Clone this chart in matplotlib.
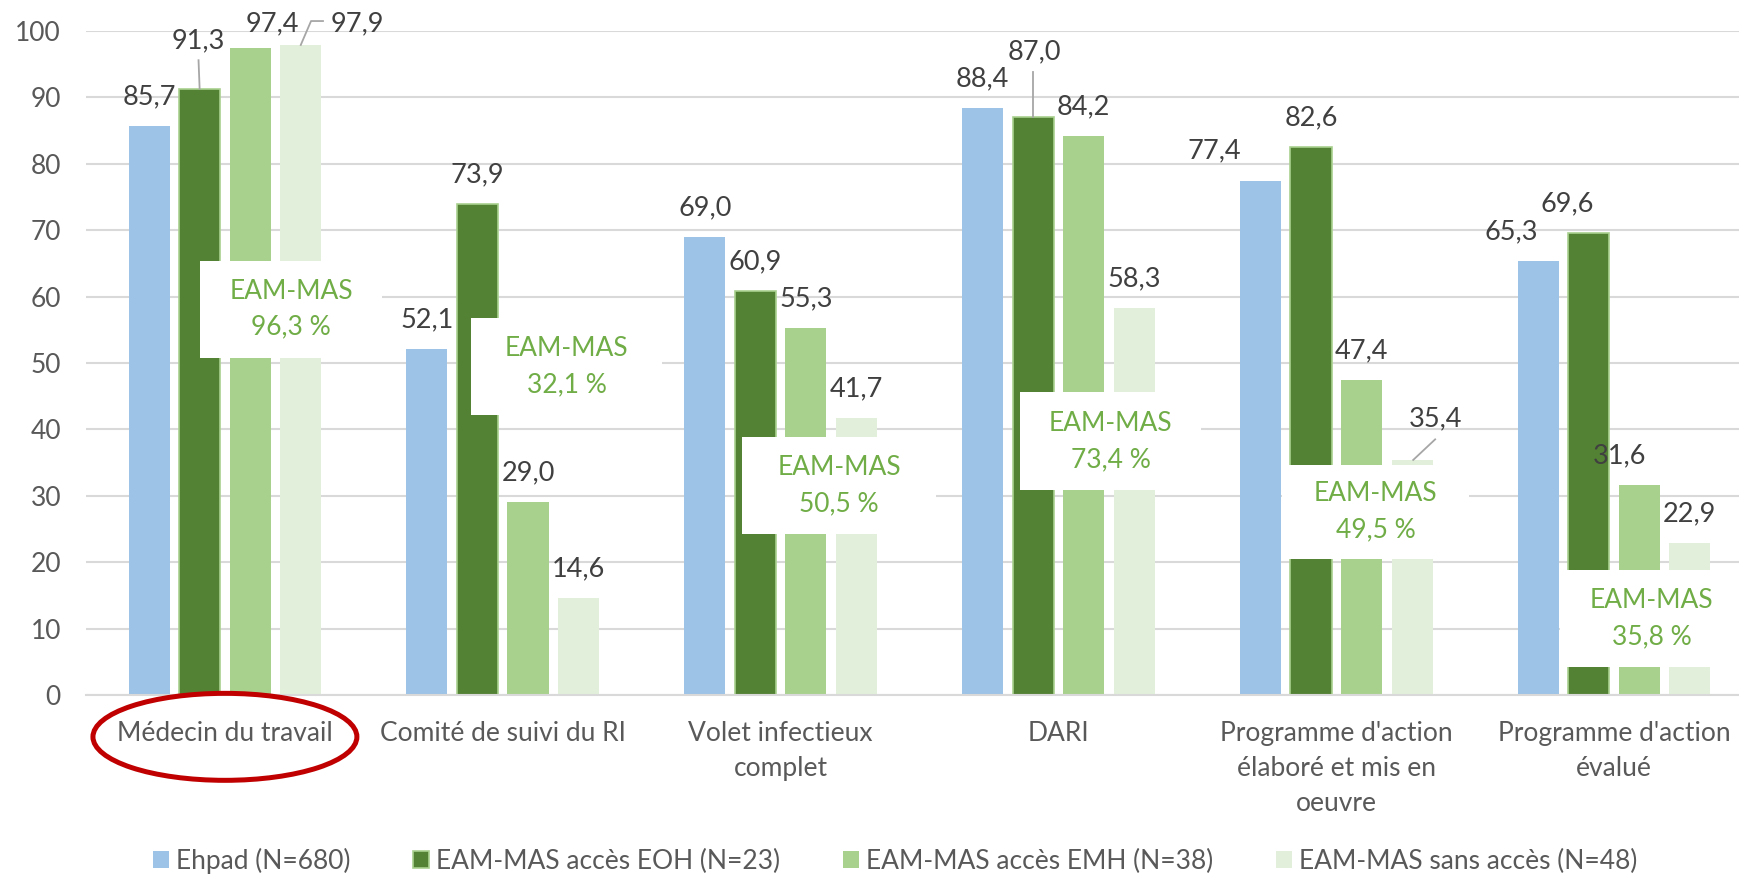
import matplotlib
matplotlib.use("Agg")
import matplotlib.pyplot as plt
import matplotlib.transforms as mtransforms
from matplotlib.patches import Rectangle, Ellipse
import numpy as np

plt.rcParams['font.family'] = ['Lato', 'DejaVu Sans']

categories = ["Médecin du travail", "Comité de suivi du RI", "Volet infectieux\ncomplet",
              "DARI", "Programme d'action\nélaboré et mis en\noeuvre", "Programme d'action\névalué"]
series_names = ["Ehpad (N=680)", "EAM-MAS accès EOH (N=23)",
                "EAM-MAS accès EMH (N=38)", "EAM-MAS sans accès (N=48)"]
ehpad = [85.7, 52.1, 69.0, 88.4, 77.4, 65.3]
eoh = [91.3, 73.9, 60.9, 87.0, 82.6, 69.6]
emh = [97.4, 29.0, 55.3, 84.2, 47.4, 31.6]
sans_acces = [97.9, 14.6, 41.7, 58.3, 35.4, 22.9]
eam_mas_total = [96.3, 32.1, 50.5, 73.4, 49.5, 35.8]

colors = ['#9dc3e6', '#548235', '#a9d18e', '#e2efda']
green_txt = '#70ad47'
grid_c = '#d9d9d9'
fs = 19

W, H = 1739, 876
fig = plt.figure(figsize=(W / 100, H / 100), dpi=100)
ax = fig.add_axes([86 / W, 1 - 695 / H, 1667 / W, 664 / H])

x = np.arange(len(categories))
offsets = [-0.273, -0.091, 0.091, 0.273]
bw = 0.148
all_series = [ehpad, eoh, emh, sans_acces]
for k, vals in enumerate(all_series):
    ec = '#a9d18e' if k == 1 else 'none'
    ax.bar(x + offsets[k], vals, bw, color=colors[k], edgecolor=ec, linewidth=1.2,
           label=series_names[k], zorder=2)

ax.set_ylim(0, 100)
ax.set_xlim(-0.5, len(categories) - 0.5)
ax.set_yticks(range(0, 101, 10))
ax.yaxis.grid(True, color=grid_c, linewidth=1.5, zorder=0)
ax.set_axisbelow(True)
for s in ['top', 'right', 'left']:
    ax.spines[s].set_visible(False)
ax.spines['bottom'].set_color(grid_c)
ax.spines['bottom'].set_linewidth(1.5)
ax.tick_params(axis='both', length=0, labelsize=fs, labelcolor='#595959')
ax.tick_params(axis='y', pad=18)
ax.tick_params(axis='x', pad=19)
ax.set_xticks(x)
ax.set_xticklabels(categories, linespacing=1.5, va='top')

# value labels: default centred above the bar, some moved by hand
moved = {
    (0, 1): (-0.097, 98.5), (0, 2): (0.170, 101.1), (0, 3): (0.476, 101.1),
    (3, 1): (2.912, 96.8), (4, 0): (3.56, 82.0), (4, 3): (4.356, 41.6),
    (5, 0): (4.63, 69.7), (5, 1): (4.83, 74.0), (5, 2): (5.02, 36.0),
}
for k, vals in enumerate(all_series):
    for i, v in enumerate(vals):
        bx = i + offsets[k]
        tx, ty = moved.get((i, k), (bx, v + 4.4))
        ax.text(tx, ty, f"{v:.1f}".replace('.', ','), ha='center', va='center',
                fontsize=fs + 0.5, color='#404040', zorder=6, clip_on=False)

# leader lines
lc = '#a6a6a6'
ax.plot([0 - 0.091, -0.095], [eoh[0], 95.6], color=lc, lw=1.3, zorder=5, clip_on=False)
ax.plot([0.273, 0.31, 0.353], [sans_acces[0], 101.5, 101.5], color=lc, lw=1.3, zorder=5, clip_on=False)
ax.plot([3 - 0.091, 3 - 0.091], [eoh[3], 93.8], color=lc, lw=1.3, zorder=5, clip_on=False)
ax.plot([4.277, 4.356], [sans_acces[4], 38.5], color=lc, lw=1.3, zorder=5, clip_on=False)

# white boxes with EAM-MAS totals
boxes = [(-0.090, 0.566, 50.8, 65.4), (0.886, 1.573, 42.1, 56.8), (1.861, 2.560, 24.2, 38.9),
         (2.862, 3.514, 30.8, 45.6), (3.805, 4.478, 20.5, 34.7), (4.806, 5.465, 4.2, 18.8)]
for (x0, x1, y0, y1), val in zip(boxes, eam_mas_total):
    ax.add_patch(Rectangle((x0, y0), x1 - x0, y1 - y0, facecolor='white', edgecolor='none',
                           zorder=4, clip_on=False))
    ax.text((x0 + x1) / 2, (y0 + y1) / 2, "EAM-MAS\n" + f"{val:.1f}".replace('.', ',') + " %",
            ha='center', va='center', fontsize=fs, color=green_txt, linespacing=1.55,
            zorder=5)

# red ellipse round the first category label
trans = mtransforms.blended_transform_factory(ax.transData, ax.transAxes)
ax.add_patch(Ellipse((0, -0.063), 0.95, 0.131, transform=trans, fill=False,
                     edgecolor='#c00000', linewidth=3.6, clip_on=False, zorder=7))

fig.legend(loc='center', bbox_to_anchor=(0.5147, 0.0175), ncol=4, frameon=False,
           fontsize=fs, labelcolor='#595959', handlelength=0.6, handleheight=0.6,
           handletextpad=0.25, columnspacing=2.4, borderpad=0.2)

fig.savefig('out.png', dpi=100)
